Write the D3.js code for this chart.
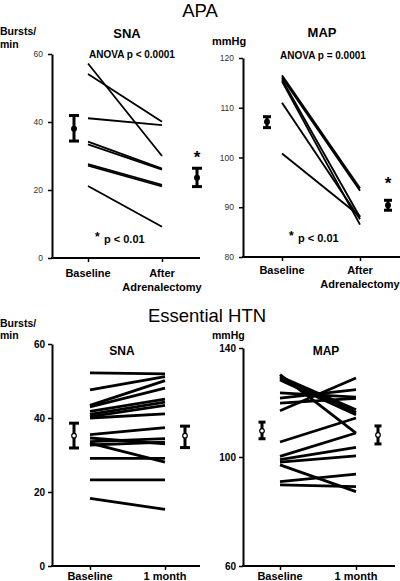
<!DOCTYPE html>
<html><head><meta charset="utf-8">
<script src="https://cdn.jsdelivr.net/npm/d3@7"></script>
<style>
body{margin:0;background:#fff;}
svg{display:block;font-family:"Liberation Sans",Arial,sans-serif;}
</style></head>
<body><svg id="c" width="400" height="581"></svg>
<script>
// ---- data ----
const catsAPA = ["Baseline", "After Adrenalectomy"];
const catsHTN = ["Baseline", "1 month"];

// APA – SNA (bursts/min)
const apaSNA_base  = [57.2, 54.1, 41.1, 34.2, 33.4, 27.6, 27.2, 21.2];
const apaSNA_after = [30.0, 40.1, 39.1, 26.3, 26.0, 21.5, 21.1, 9.2];
const apaSNA_mean = [38.0, 23.6];
const apaSNA_lo   = [34.4, 21.0];
const apaSNA_hi   = [41.9, 26.4];
const apaSNA_ticks = [0, 20, 40, 60];

// APA – MAP (mmHg)
const apaMAP_base  = [116.5, 116.1, 115.7, 115.3, 111.0, 100.8];
const apaMAP_after = [93.8, 93.3, 88.0, 86.5, 87.6, 88.2];
const apaMAP_mean = [107.2, 90.4];
const apaMAP_lo   = [106.0, 89.4];
const apaMAP_hi   = [108.2, 91.4];
const apaMAP_ticks = [80, 90, 100, 110, 120];

// Essential HTN – SNA
const htnSNA_base  = [52.2, 47.6, 43.4, 43.0, 41.8, 41.0, 40.4, 40.0, 35.5, 34.6, 33.6, 32.7, 33.2, 29.1, 23.3, 18.3];
const htnSNA_month = [51.9, 51.2, 50.1, 48.1, 45.1, 44.3, 43.4, 41.1, 37.4, 33.0, 34.4, 33.5, 28.1, 29.1, 23.3, 15.3];
const htnSNA_mean = [35.2, 35.2];
const htnSNA_lo   = [31.9, 32.0];
const htnSNA_hi   = [38.6, 37.8];
const htnSNA_ticks = [0, 20, 40, 60];

// Essential HTN – MAP
const htnMAP_base  = [130.2, 129.5, 129.0, 128.3, 123.5, 121.6, 119.8, 117.0, 105.5, 100.2, 99.0, 98.1, 97.1, 91.0, 89.8];
const htnMAP_month = [108.8, 117.3, 116.3, 115.5, 122.0, 124.7, 121.5, 129.0, 114.3, 108.8, 103.5, 100.4, 87.3, 93.7, 89.1];
const htnMAP_mean = [109.6, 108.1];
const htnMAP_lo   = [106.7, 104.8];
const htnMAP_hi   = [112.8, 111.4];
const htnMAP_ticks = [60, 100, 140];

// ---- drawing ----
const svg = d3.select("#c");

function txt(x, y, s, size, weight, anchor, fill) {
  return svg.append("text").attr("x", x).attr("y", y).text(s)
    .attr("font-size", size).attr("font-weight", weight || "bold")
    .attr("text-anchor", anchor || "start").attr("fill", fill || "#000");
}

function panel(o) {
  const y = d3.scaleLinear().domain(o.ydom).range([o.yBot, o.yTop]);
  const x = d3.scalePoint().domain(o.cats).range([o.xb, o.xa]);

  // y axis
  const ga = svg.append("g").attr("transform", `translate(${o.axX},0)`)
    .call(d3.axisLeft(y).tickValues(o.ticks).tickSize(4).tickSizeOuter(0).tickPadding(o.tickPad));
  ga.select(".domain").attr("stroke", "#000").attr("stroke-width", 2);
  ga.selectAll(".tick line").attr("stroke", "#000").attr("stroke-width", 1.5);
  ga.selectAll(".tick text").attr("font-family", "Liberation Sans, Arial, sans-serif")
    .attr("font-size", o.tickSize).attr("font-weight", o.tickWeight).attr("fill", o.tickFill);

  // x axis line
  svg.append("line").attr("x1", o.axX - 1).attr("x2", o.axEnd)
    .attr("y1", y(o.ydom[0])).attr("y2", y(o.ydom[0]))
    .attr("stroke", "#000").attr("stroke-width", 2);
  const gx = svg.append("g").attr("transform", `translate(0,${y(o.ydom[0])})`)
    .call(d3.axisBottom(x).tickSize(4).tickFormat(""));
  gx.select(".domain").remove();
  gx.selectAll(".tick line").attr("stroke", "#000").attr("stroke-width", 1.5);

  // category labels
  o.cats.forEach((c, i) => {
    const parts = c === "After Adrenalectomy" ? ["After", "Adrenalectomy"] : [c];
    parts.forEach((p, j) => txt(x(c), o.labY + j * 13.5, p, 11, "bold", "middle"));
  });

  // subject lines
  svg.append("g").selectAll("line").data(o.base).join("line")
    .attr("x1", x(o.cats[0])).attr("x2", x(o.cats[1]))
    .attr("y1", d => y(d)).attr("y2", (d, i) => y(o.after[i]))
    .attr("stroke", "#000").attr("stroke-width", o.lw).attr("stroke-linecap", "butt");

  // error bars
  o.mean.forEach((m, i) => {
    const ex = x(o.cats[i]) + o.errOff[i];
    const g = svg.append("g");
    g.append("line").attr("x1", ex).attr("x2", ex).attr("y1", y(o.lo[i])).attr("y2", y(o.hi[i]))
      .attr("stroke", "#000").attr("stroke-width", 3);
    [o.lo[i], o.hi[i]].forEach(v => g.append("line")
      .attr("x1", ex - o.capW / 2).attr("x2", ex + o.capW / 2).attr("y1", y(v)).attr("y2", y(v))
      .attr("stroke", "#000").attr("stroke-width", 3));
    g.append("circle").attr("cx", ex).attr("cy", y(m)).attr("r", o.open ? 2.3 : 3)
      .attr("fill", o.open ? "#fff" : "#000").attr("stroke", "#000").attr("stroke-width", o.open ? 1.2 : 0);
  });
  return { x, y };
}

// Titles
txt(200, 17, "APA", 18.5, "normal", "middle");
txt(207, 322, "Essential HTN", 18.5, "normal", "middle");

// APA SNA
const p1 = panel({
  ydom: [0, 60], yBot: 258, yTop: 54, axX: 52, axEnd: 200, xb: 88, xa: 162, cats: catsAPA,
  ticks: apaSNA_ticks, tickPad: 5, tickSize: 8.5, tickWeight: "normal", tickFill: "#333",
  base: apaSNA_base, after: apaSNA_after, lw: 1.8, labY: 277,
  mean: apaSNA_mean, lo: apaSNA_lo, hi: apaSNA_hi, errOff: [-14, 35], capW: 10, open: false
});
txt(0, 35, "Bursts/", 10.5);
txt(0, 48, "min", 10.5);
txt(127, 38, "SNA", 13, "bold", "middle");
txt(89, 58, "ANOVA p < 0.0001", 10);
txt(95, 241, "*", 12);
txt(104, 243, "p < 0.01", 11);
txt(197, 163, "*", 17, "bold", "middle");

// APA MAP
const p2 = panel({
  ydom: [80, 120], yBot: 257, yTop: 58, axX: 243, axEnd: 400, xb: 282, xa: 360, cats: catsAPA,
  ticks: apaMAP_ticks, tickPad: 5, tickSize: 8.5, tickWeight: "normal", tickFill: "#333",
  base: apaMAP_base, after: apaMAP_after, lw: 1.9, labY: 274,
  mean: apaMAP_mean, lo: apaMAP_lo, hi: apaMAP_hi, errOff: [-15, 28], capW: 8, open: false
});
txt(212, 45, "mmHg", 11);
txt(322, 37, "MAP", 13, "bold", "middle");
txt(280, 59, "ANOVA p = 0.0001", 10);
txt(289, 240, "*", 12);
txt(298, 242, "p < 0.01", 11);
txt(388, 189, "*", 17, "bold", "middle");

// HTN SNA
const p3 = panel({
  ydom: [0, 60], yBot: 566, yTop: 344, axX: 52, axEnd: 200, xb: 90, xa: 165, cats: catsHTN,
  ticks: htnSNA_ticks, tickPad: 3, tickSize: 10, tickWeight: "bold", tickFill: "#000",
  base: htnSNA_base, after: htnSNA_month, lw: 2.8, labY: 580,
  mean: htnSNA_mean, lo: htnSNA_lo, hi: htnSNA_hi, errOff: [-16, 20], capW: 10, open: true
});
txt(0, 327, "Bursts/", 10.5);
txt(0, 339, "min", 10.5);
txt(122, 355, "SNA", 12, "bold", "middle");

// HTN MAP
const p4 = panel({
  ydom: [60, 140], yBot: 566, yTop: 348, axX: 243, axEnd: 395, xb: 280, xa: 356, cats: catsHTN,
  ticks: htnMAP_ticks, tickPad: 3, tickSize: 10, tickWeight: "bold", tickFill: "#000",
  base: htnMAP_base, after: htnMAP_month, lw: 2.8, labY: 580,
  mean: htnMAP_mean, lo: htnMAP_lo, hi: htnMAP_hi, errOff: [-18, 22], capW: 7, open: true
});
txt(212, 339, "mmHg", 10.5);
txt(326, 355, "MAP", 12, "bold", "middle");
</script>
</body></html>
